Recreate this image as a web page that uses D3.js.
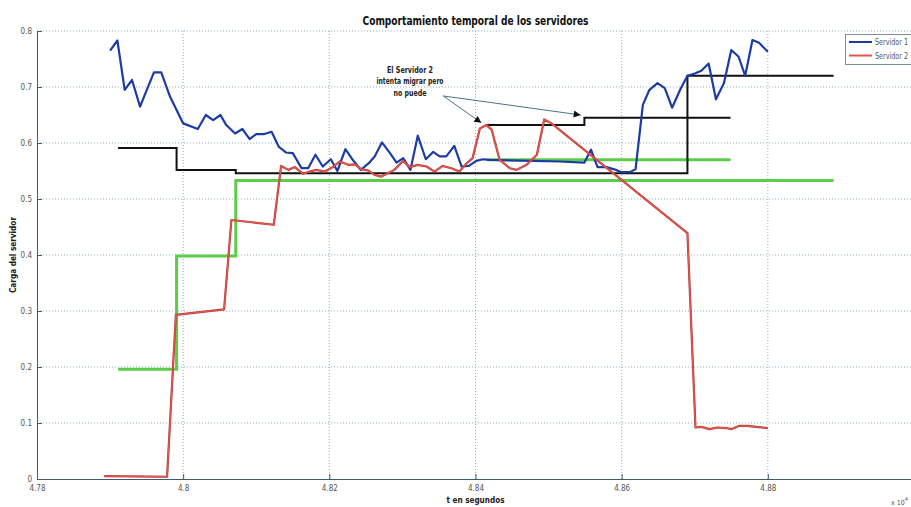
<!DOCTYPE html>
<html>
<head>
<meta charset="utf-8">
<script src="https://cdn.jsdelivr.net/npm/d3@7"></script>
<style>
  html, body { margin: 0; padding: 0; background: #fff; overflow: hidden; }
  svg { display: block; }
  text { font-family: "Liberation Sans Narrow", "DejaVu Sans Condensed", "Liberation Sans", sans-serif; }
</style>
</head>
<body>
<svg id="chart" width="911" height="507"></svg>
<script>
// ---------- data (t in units of 10^4 s) ----------
const s1Time = [4.7900,4.7910,4.7920,4.7930,4.7941,4.7960,4.7970,4.7982,4.8000,4.8020,
  4.8031,4.8041,4.8051,4.8059,4.8071,4.8081,4.8091,4.8100,4.8111,4.8121,
  4.8131,4.8141,4.8150,4.8162,4.8171,4.8181,4.8191,4.8202,4.8211,4.8222,
  4.8232,4.8243,4.8254,4.8262,4.8272,4.8283,4.8292,4.8301,4.8311,4.8321,
  4.8332,4.8342,4.8351,4.8360,4.8371,4.8381,4.8391,4.8401,4.8410,4.8419,
  4.8478,4.8515,4.8549,4.8558,4.8567,4.8579,4.8590,4.8599,4.8611,4.8619,
  4.8629,4.8638,4.8649,4.8659,4.8669,4.8680,4.8690,4.8700,4.8709,4.8719,
  4.8729,4.8740,4.8750,4.8760,4.8769,4.8779,4.8788,4.8800];
const s1Load = [0.765,0.783,0.695,0.7125,0.665,0.726,0.726,0.683,0.635,0.625,
  0.650,0.641,0.650,0.632,0.617,0.625,0.607,0.616,0.616,0.620,
  0.593,0.583,0.582,0.555,0.555,0.579,0.558,0.571,0.550,0.589,
  0.570,0.552,0.564,0.576,0.601,0.582,0.565,0.573,0.552,0.613,
  0.571,0.584,0.576,0.576,0.595,0.558,0.559,0.568,0.571,0.570,
  0.568,0.567,0.565,0.588,0.557,0.557,0.553,0.548,0.548,0.553,
  0.668,0.695,0.707,0.698,0.663,0.695,0.720,0.724,0.729,0.742,
  0.678,0.707,0.766,0.754,0.720,0.784,0.779,0.763];

const s2Time = [4.7892,4.7978,4.7990,4.8056,4.8066,4.8124,4.8134,4.8144,4.8153,4.8164,
  4.8173,4.8182,4.8194,4.8205,4.8214,4.8226,4.8235,4.8244,4.8253,4.8262,
  4.8271,4.8280,4.8289,4.8301,4.8310,4.8321,4.8333,4.8344,4.8355,4.8367,
  4.8378,4.8387,4.8396,4.8406,4.8415,4.8422,4.8433,4.8447,4.8456,4.8470,
  4.8484,4.8494,4.8504,4.8690,4.8701,4.8709,4.8720,4.8731,4.8743,4.8750,
  4.8761,4.8772,4.8784,4.8800];
const s2Load = [0.005,0.004,0.293,0.303,0.4625,0.454,0.559,0.552,0.557,0.545,
  0.549,0.552,0.549,0.557,0.567,0.561,0.562,0.553,0.551,0.543,
  0.540,0.546,0.552,0.568,0.557,0.561,0.558,0.549,0.559,0.555,
  0.549,0.5625,0.573,0.626,0.632,0.624,0.570,0.555,0.552,0.561,
  0.579,0.642,0.635,0.439,0.092,0.093,0.089,0.092,0.091,0.089,
  0.095,0.095,0.093,0.091];

// threshold step lines
const black1Time = [4.7911, 4.7991, 4.8072, 4.8690, 4.8890];
const black1Level = [0.591, 0.552, 0.546, 0.720, 0.720];
const black2Time = [4.8415, 4.8549, 4.8749];
const black2Level = [0.632, 0.645, 0.645];
const green1Time = [4.7911, 4.7991, 4.8072, 4.8890];
const green1Level = [0.196, 0.398, 0.533, 0.533];
const green2Time = [4.8415, 4.8749];
const green2Level = [0.570, 0.570];

const xTicks = [4.78, 4.80, 4.82, 4.84, 4.86, 4.88, 4.90];
const xTickLabels = ["4.78", "4.8", "4.82", "4.84", "4.86", "4.88", ""];
const yTicks = [0, 0.1, 0.2, 0.3, 0.4, 0.5, 0.6, 0.7, 0.8];
const yTickLabels = ["0", "0.1", "0.2", "0.3", "0.4", "0.5", "0.6", "0.7", "0.8"];

const seriesNames = ["Servidor 1", "Servidor 2"];
const titleText = "Comportamiento temporal de los servidores";
const xLabelText = "t en segundos";
const yLabelText = "Carga del servidor";
const noteLines = ["El Servidor 2", "intenta migrar pero", "no puede"];

// ---------- layout ----------
const svg = d3.select("#chart");
const L = 37, R = 914, T = 31, B = 479;
const x = d3.scaleLinear().domain([4.78, 4.90]).range([L, R]);
const y = d3.scaleLinear().domain([0, 0.8]).range([B, T]);

const axisColor = "#3f5a68";
const gridColor = "#8fb0c4";

// grid
const grid = svg.append("g");
grid.selectAll("line.vg").data(xTicks.slice(1)).join("line")
  .attr("x1", d => x(d)).attr("x2", d => x(d))
  .attr("y1", B).attr("y2", T)
  .attr("stroke", gridColor).attr("stroke-width", 1)
  .attr("stroke-dasharray", "1,2");
grid.selectAll("line.hg").data(yTicks.slice(1)).join("line")
  .attr("x1", L).attr("x2", R)
  .attr("y1", d => y(d)).attr("y2", d => y(d))
  .attr("stroke", gridColor).attr("stroke-width", 1)
  .attr("stroke-dasharray", "1,2");

// axes
const xAxis = d3.axisBottom(x).tickValues(xTicks)
  .tickFormat((d, i) => xTickLabels[i]).tickSize(-5).tickPadding(6);
const yAxis = d3.axisLeft(y).tickValues(yTicks)
  .tickFormat((d, i) => yTickLabels[i]).tickSize(-5).tickPadding(5);

const gx = svg.append("g").attr("transform", `translate(0,${B})`).call(xAxis);
const gy = svg.append("g").attr("transform", `translate(${L},0)`).call(yAxis);
[gx, gy].forEach(g => {
  g.select(".domain").attr("stroke", axisColor).attr("stroke-width", 1);
  g.selectAll(".tick line").attr("stroke", axisColor);
  g.selectAll(".tick text").attr("fill", "#555").attr("font-size", 8)
    .style("font-family", '"Liberation Sans Narrow", "DejaVu Sans Condensed", sans-serif');
});

// exponent label
const expT = svg.append("text").attr("x", 891).attr("y", 505)
  .attr("font-size", 7).attr("fill", "#555").text("x 10");
expT.append("tspan").attr("dy", -4).attr("font-size", 5.5).text("4");

// ---------- lines ----------
const lineGen = d3.line().x(d => x(d[0])).y(d => y(d[1]));
const stepGen = d3.line().x(d => x(d[0])).y(d => y(d[1])).curve(d3.curveStepAfter);
const zip = (a, b) => a.map((v, i) => [v, b[i]]);

const plot = svg.append("g");

plot.append("path").datum(zip(green1Time, green1Level)).attr("d", stepGen)
  .attr("fill", "none").attr("stroke", "#5ccd4a").attr("stroke-width", 3);
plot.append("path").datum(zip(green2Time, green2Level)).attr("d", stepGen)
  .attr("fill", "none").attr("stroke", "#5ccd4a").attr("stroke-width", 3);

plot.append("path").datum(zip(black1Time, black1Level)).attr("d", stepGen)
  .attr("fill", "none").attr("stroke", "#111").attr("stroke-width", 2);
plot.append("path").datum(zip(black2Time, black2Level)).attr("d", stepGen)
  .attr("fill", "none").attr("stroke", "#111").attr("stroke-width", 2);

plot.append("path").datum(zip(s1Time, s1Load)).attr("d", lineGen)
  .attr("fill", "none").attr("stroke", "#1c3ca4").attr("stroke-width", 2.2)
  .attr("stroke-linejoin", "round");

plot.append("path").datum(zip(s2Time, s2Load)).attr("d", lineGen)
  .attr("fill", "none").attr("stroke", "#a8403c").attr("stroke-width", 2.2)
  .attr("stroke-linejoin", "round");
plot.append("path").datum(zip(s2Time, s2Load)).attr("d", lineGen)
  .attr("fill", "none").attr("stroke", "#ea524c").attr("stroke-width", 1.3)
  .attr("stroke-linejoin", "round");

// ---------- annotation ----------
svg.append("defs").append("marker")
  .attr("id", "arrow").attr("viewBox", "0 0 10 10")
  .attr("refX", 10).attr("refY", 5)
  .attr("markerWidth", 8).attr("markerHeight", 7)
  .attr("markerUnits", "userSpaceOnUse")
  .attr("orient", "auto")
  .append("path").attr("d", "M0,0 L10,5 L0,10 z").attr("fill", "#111");

const noteWidths = [46, 67, 33];
const note = svg.append("g");
note.selectAll("text").data(noteLines).join("text")
  .attr("x", 410).attr("y", (d, i) => 73 + i * 11.3)
  .attr("text-anchor", "middle").attr("font-size", 8).attr("font-weight", "bold")
  .attr("textLength", (d, i) => noteWidths[i]).attr("lengthAdjust", "spacingAndGlyphs")
  .attr("fill", "#222").text(d => d);

// arrow origin and tips positioned in data units
const arrowFrom = [4.8356, 0.684];
const arrowTips = [[4.8408, 0.636], [4.8544, 0.650]];
note.selectAll("line").data(arrowTips).join("line")
  .attr("x1", x(arrowFrom[0])).attr("y1", y(arrowFrom[1]))
  .attr("x2", d => x(d[0])).attr("y2", d => y(d[1]))
  .attr("stroke", "#4c7382").attr("stroke-width", 1)
  .attr("marker-end", "url(#arrow)");

// ---------- texts ----------
svg.append("text").attr("x", (L + R) / 2).attr("y", 25)
  .attr("text-anchor", "middle").attr("font-size", 12).attr("font-weight", "bold")
  .attr("textLength", 226).attr("lengthAdjust", "spacingAndGlyphs")
  .attr("fill", "#111").text(titleText);
svg.append("text").attr("x", (L + R) / 2).attr("y", 503)
  .attr("text-anchor", "middle").attr("font-size", 9.5).attr("font-weight", "bold")
  .attr("textLength", 58).attr("lengthAdjust", "spacingAndGlyphs")
  .attr("fill", "#222").text(xLabelText);
svg.append("text").attr("transform", `translate(16,${(T + B) / 2}) rotate(-90)`)
  .attr("text-anchor", "middle").attr("font-size", 9.5).attr("font-weight", "bold")
  .attr("textLength", 76).attr("lengthAdjust", "spacingAndGlyphs")
  .attr("fill", "#222").text(yLabelText);

// ---------- legend ----------
const lg = svg.append("g");
lg.append("rect").attr("x", 845.5).attr("y", 34.5).attr("width", 80).attr("height", 30)
  .attr("fill", "#fff").attr("stroke", "#7d8e98").attr("stroke-width", 1);
const legendColors = ["#1c3ca4", "#ea524c"];
seriesNames.forEach((name, i) => {
  const yy = 42 + i * 13.5;
  lg.append("line").attr("x1", 849).attr("x2", 872).attr("y1", yy).attr("y2", yy)
    .attr("stroke", legendColors[i]).attr("stroke-width", 2);
  lg.append("text").attr("x", 875).attr("y", yy + 3).attr("font-size", 8)
    .attr("textLength", 33).attr("lengthAdjust", "spacingAndGlyphs")
    .attr("fill", "#555").text(name);
});
</script>
</body>
</html>
